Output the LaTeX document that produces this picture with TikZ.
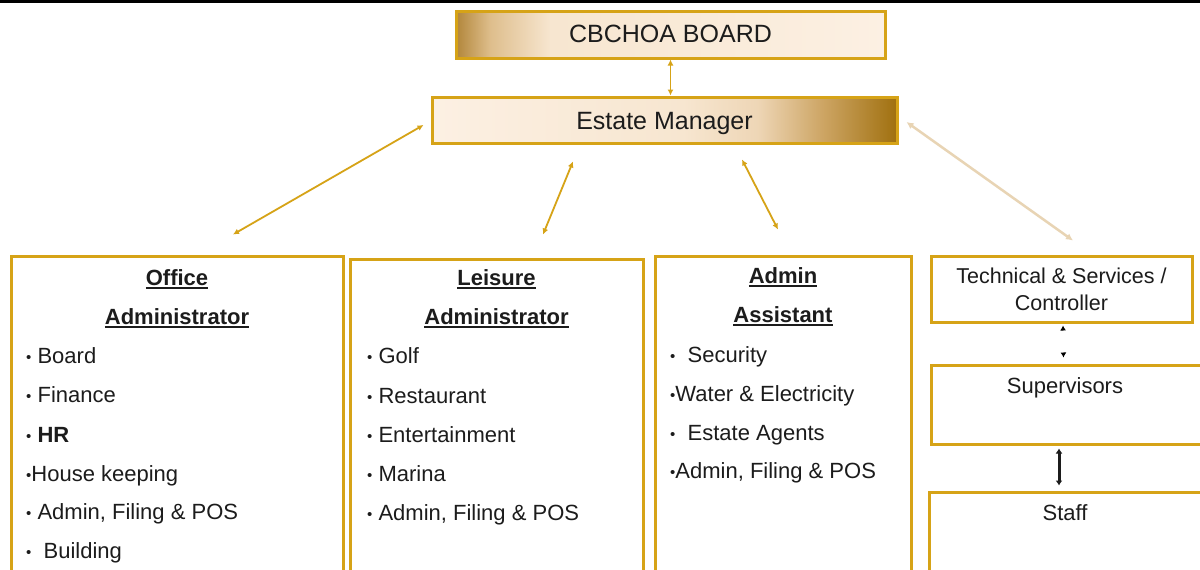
\documentclass[tikz,border=0pt]{standalone}
\usepackage{fontspec}
\setmainfont{Liberation Sans}
\usetikzlibrary{arrows.meta,calc}
\definecolor{gold}{RGB}{214,163,23}
\definecolor{beige}{RGB}{232,212,180}
\definecolor{ink}{RGB}{28,28,28}
\definecolor{creamL}{RGB}{252,240,227}
\definecolor{cream}{RGB}{247,230,208}
\definecolor{creamb}{RGB}{238,214,182}
\definecolor{tanc}{RGB}{205,165,100}
\definecolor{darkgold}{RGB}{160,112,15}
\definecolor{bdark}{RGB}{178,134,58}
\definecolor{bmid}{RGB}{222,190,140}
\pgfdeclarehorizontalshading{emshade}{100bp}{color(0bp)=(creamL); color(25bp)=(creamL); color(52bp)=(cream); color(60bp)=(creamb); color(67bp)=(tanc); color(75bp)=(darkgold); color(100bp)=(darkgold)}
\pgfdeclarehorizontalshading{boardshade}{100bp}{color(0bp)=(bdark); color(25bp)=(bdark); color(29bp)=(bmid); color(36bp)=(cream); color(75bp)=(creamL); color(100bp)=(creamL)}
\newcommand\bul{{\fontsize{15}{15}\selectfont\raisebox{1pt}{•}}}
\newcommand\ulttl[1]{\setbox0\hbox{#1}\rlap{\rule[-4pt]{\wd0}{1.8pt}}\box0}
\tikzset{
  goldbox/.style={draw=gold, line width=3pt, inner sep=0pt, text=ink},
  topbox/.style={goldbox, font=\fontsize{25}{29}\selectfont, text depth=0pt},
  listbox/.style={goldbox, fill=white},
  ttl/.style={anchor=base, inner sep=0pt, text=ink, font=\fontsize{22}{26}\selectfont\bfseries},
  itm/.style={anchor=base west, inner sep=0pt, text=ink, font=\fontsize{22}{26}\selectfont},
  lbl/.style={anchor=base, inner sep=0pt, text=ink, font=\fontsize{22}{26}\selectfont},
  goldarr/.style={draw=gold, line width=1.8pt, {Latex[length=6pt,width=6pt]}-{Latex[length=6pt,width=6pt]}},
  beigearr/.style={draw=beige, line width=2.5pt, {Latex[length=7pt,width=7pt]}-{Latex[length=7pt,width=7pt]}},
  tinyarr/.style={draw=white, line width=1pt, {Latex[length=5pt,width=6pt,black]}-{Latex[length=5pt,width=6pt,black]}},
  blackarr/.style={draw=ink, line width=3pt, {Latex[length=5pt,width=7pt]}-{Latex[length=5pt,width=7pt]}}
}
\begin{document}
\begin{tikzpicture}[x=1pt,y=-1pt]
\useasboundingbox (0,0) rectangle (1200,570);
\fill[white] (0,0) rectangle (1200,570);
\clip (0,0) rectangle (1200,570);
\fill[black] (0,0) rectangle (1200,2.5);

\node[topbox, shading=boardshade, minimum width=429pt, minimum height=47pt, text height=15pt] (board) at (670.5,34.5) {CBCHOA BOARD};
\node[topbox, shading=emshade, minimum width=465pt, minimum height=46pt, text height=18pt] (em) at (664.5,120) {Estate Manager};

\node[listbox, minimum width=332pt, minimum height=319pt] (office) at (177,415.5) {};
\node[listbox, minimum width=293pt, minimum height=316pt] (leisure) at (496.5,417) {};
\node[listbox, minimum width=256pt, minimum height=319pt] (admin) at (783,415.5) {};
\node[listbox, minimum width=261pt, minimum height=66pt, align=center, font=\fontsize{21.5}{27}\selectfont] (tech) at (1061.5,289) {Technical \& Services /\\Controller};
\node[listbox, minimum width=274pt, minimum height=79pt] (sup) at (1068,404.5) {};
\node[listbox, minimum width=276pt, minimum height=83pt] (staff) at (1067,533.5) {};

% Office administrator
\node[ttl] (o1) at (177,285) {\ulttl{Office}};
\node[ttl] (o2) at (177,324) {\ulttl{Administrator}};
\node[itm] (oa) at (26,363) {\bul\ Board};
\node[itm] (ob) at (26,402) {\bul\ Finance};
\node[itm] (oc) at (26,442) {\bul\ \textbf{HR}};
\node[itm] (od) at (26,481) {\bul House keeping};
\node[itm] (oe) at (26,519) {\bul\ Admin, Filing \& POS};
\node[itm] (of) at (26,558) {\bul\ \ Building};

% Leisure administrator
\node[ttl] (l1) at (496.5,285) {\ulttl{Leisure}};
\node[ttl] (l2) at (496.5,324) {\ulttl{Administrator}};
\node[itm] (la) at (367,363) {\bul\ Golf};
\node[itm] (lb) at (367,403) {\bul\ Restaurant};
\node[itm] (lc) at (367,442) {\bul\ Entertainment};
\node[itm] (ld) at (367,481) {\bul\ Marina};
\node[itm] (le) at (367,520) {\bul\ Admin, Filing \& POS};

% Admin assistant
\node[ttl] (a1) at (783,283) {\ulttl{Admin}};
\node[ttl] (a2) at (783,322) {\ulttl{Assistant}};
\node[itm] (aa) at (670,362) {\bul\ \ Security};
\node[itm] (ab) at (670,401) {\bul Water \& Electricity};
\node[itm] (ac) at (670,440) {\bul\ \ Estate Agents};
\node[itm] (ad) at (670,478) {\bul Admin, Filing \& POS};

% right column labels
\node[lbl] (suptxt) at (1065,393) {Supervisors};
\node[lbl] (stafftxt) at (1065,520) {Staff};

% connectors
\draw[goldarr] (board.south) -- (board.south |- em.north);
\draw[goldarr] ($(em.west)+(-7,5)$) -- ($(office.north)+(56,-20)$);
\draw[goldarr] ($(em.south)+(-91.5,17)$) -- ($(leisure.north)+(46.5,-23)$);
\draw[goldarr] ($(em.south)+(77.5,15)$) -- ($(admin.north)+(-5,-25)$);
\draw[beigearr] ($(em.east)+(8,2)$) -- ($(tech.north)+(11.5,-14)$);
\draw[tinyarr] ($(tech.south)+(1.5,2)$) -- ($(sup.north)+(-4.5,-6)$);
\draw[blackarr] ($(sup.south)+(-9,3)$) -- ($(staff.north)+(-8,-5)$);
\end{tikzpicture}
\end{document}
